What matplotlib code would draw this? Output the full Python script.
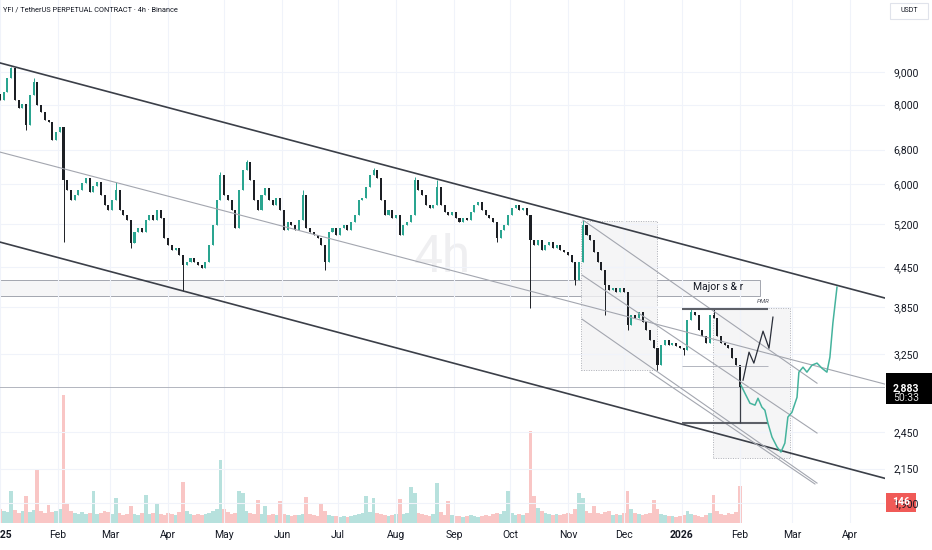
import numpy as np
import matplotlib
matplotlib.use("Agg")
import matplotlib.pyplot as plt
import matplotlib.dates as mdates
from matplotlib.patches import Rectangle
from matplotlib.ticker import FixedLocator, NullLocator, FixedFormatter

plt.rcParams['font.family'] = ['Roboto', 'DejaVu Sans']

START = mdates.date2num(np.datetime64('2025-01-01'))
STEP = 2  # days per candle

# 2-day candles, closes in USDT
first_open = 8300
closes = [
    8130, 8370, 8810, 9130, 8130, 7900, 8020, 7430, 8280, 8680,
    7990, 7790, 7570, 7510, 7040, 7250, 7380, 6090, 5880, 5670,
    5770, 5880, 6030, 6140, 5835, 5960, 6050, 5770, 5570, 5470,
    5670, 5880, 5470, 5370, 5270, 4850, 5050, 5120, 5050, 5270,
    5370, 5270, 5470, 5310, 4940, 4820, 4730, 4770, 4650, 4480,
    4530, 4600, 4530, 4480, 4430, 4530, 4820, 5180, 5670, 6200,
    5770, 5670, 5470, 5120, 5880, 6320, 6500, 6090, 5670, 5470,
    5770, 5920, 5670, 5570, 5710, 5470, 5090, 5240, 5180, 5090,
    5270, 5770, 5120, 5050, 5000, 4940, 4820, 4530, 5050, 5120,
    5000, 5120, 5180, 5090, 5240, 5370, 5670, 5710, 5940, 6200,
    6320, 6140, 5670, 5370, 5470, 5310, 5370, 5000, 5180, 5240,
    5370, 6090, 5880, 5770, 5570, 5510, 5570, 5940, 5570, 5430,
    5370, 5430, 5310, 5240, 5310, 5270, 5430, 5570, 5630, 5470,
    5370, 5310, 5240, 4940, 5090, 5180, 5370, 5510, 5570, 5470,
    5510, 5370, 4910, 4820, 4910, 4730, 4820, 4870, 4770, 4820,
    4730, 4700, 4650, 4530, 4250, 4530, 5180, 5000, 4910, 4700,
    4530, 4400, 4170, 4100, 4130, 4070, 4130, 4070, 3610, 3740,
    3700, 3780, 3650, 3550, 3420, 3320, 3120, 3360, 3420, 3360,
    3390, 3350, 3320, 3300, 3680, 3780, 3740, 3550, 3470, 3390,
    3740, 3700, 3470, 3390, 3360, 3320, 3200, 3120, 2883,
]
wick_hi = {3: 9170, 9: 8810, 31: 6050, 59: 6270, 66: 6550, 81: 5880, 100: 6360,
           111: 6160, 117: 6090, 156: 5270, 185: 3820, 191: 3825}
wick_lo = {7: 7310, 17: 4870, 35: 4770, 49: 4080, 87: 4400, 133: 4870, 142: 3840,
           154: 4170, 162: 3740, 168: 3550, 176: 3070, 183: 3240, 198: 2830}
volumes = [
    98, 84, 77, 224, 91, 70, 84, 189, 77, 91,
    371, 84, 70, 126, 77, 84, 98, 896, 140, 84,
    70, 63, 77, 63, 70, 224, 63, 70, 84, 77,
    63, 175, 70, 56, 63, 119, 63, 56, 70, 196,
    63, 70, 140, 63, 56, 70, 63, 56, 77, 287,
    84, 63, 56, 63, 56, 63, 70, 84, 98, 441,
    98, 77, 63, 70, 224, 210, 84, 70, 63, 161,
    63, 119, 56, 63, 56, 154, 63, 56, 49, 56,
    56, 63, 182, 63, 56, 49, 140, 84, 56, 49,
    49, 42, 49, 42, 49, 56, 63, 70, 189, 77,
    175, 70, 63, 56, 49, 56, 63, 168, 63, 70,
    252, 210, 70, 63, 56, 49, 63, 280, 77, 56,
    154, 56, 49, 49, 42, 49, 56, 49, 42, 49,
    56, 49, 63, 70, 63, 84, 224, 70, 56, 63,
    56, 70, 644, 189, 105, 84, 70, 63, 56, 63,
    56, 63, 70, 63, 98, 210, 175, 84, 70, 119,
    70, 63, 77, 84, 56, 63, 56, 70, 224, 98,
    70, 63, 56, 63, 70, 161, 98, 63, 56, 49,
    49, 42, 49, 56, 84, 63, 56, 49, 42, 56,
    70, 196, 84, 63, 56, 70, 63, 77, 259,
]
last_price = 2883
last_volume = 146

price_ticks = [1900, 2150, 2450, 3250, 3850, 4450, 5200, 6000, 6800, 8000, 9000]
month_ticks = ['2025-01-01', '2025-02-01', '2025-03-01', '2025-04-01', '2025-05-01',
               '2025-06-01', '2025-07-01', '2025-08-01', '2025-09-01', '2025-10-01',
               '2025-11-01', '2025-12-01', '2026-01-01', '2026-02-01', '2026-03-01',
               '2026-04-01']
month_labels = ['2025', 'Feb', 'Mar', 'Apr', 'May', 'Jun', 'Jul', 'Aug', 'Sep', 'Oct',
                'Nov', 'Dec', '2026', 'Feb', 'Mar', 'Apr']

# drawings: (days since 2025-01-01, price)
chan_upper = ([0, 473.8], [9300, 3980])
chan_mid = ([0, 473.8], [6741, 2917])
chan_lower = ([0, 473.8], [4871, 2076])
desc_upper = ([312.1, 437.4], [5274, 2927])
desc_mid = ([311.6, 437.4], [4324, 2445])
desc_low_a = ([311.6, 437.4], [3688, 2041])
desc_low_b = ([348.0, 436.3], [3046, 2034])
band_days, band_prices = [0, 406.9], [4008, 4247]
box1_days, box1_prices = [311.0, 351.7], [3068, 5255]
box2_days, box2_prices = [381.7, 422.9], [2234, 3838]
pmr_days = [365.1, 411.1]
pmr_levels = [3825, 3113, 2535]
measure_day = 396.2
zig_days = [397.8, 401.0, 403.6, 408.5, 411.7, 413.8]
zig_prices = [2959, 3274, 3147, 3532, 3321, 3715]
path_days = [396.7, 398.8, 401.5, 404.2, 405.8, 407.9, 409.5, 411.1, 413.3, 416.0,
             418.1, 420.2, 421.8, 424.0, 426.7, 427.7, 429.9, 432.0, 434.7, 437.4,
             440.0, 442.7, 444.3, 445.9, 448.1]
path_prices = [2906, 2823, 2723, 2704, 2772, 2684, 2655, 2535, 2410, 2325,
               2283, 2358, 2590, 2636, 2782, 3046, 3101, 3046, 3124, 3147,
               3090, 3046, 3215, 3636, 4140]

W, H = 932, 550
fig = plt.figure(figsize=(W / 100, H / 100), dpi=100)
fig.patch.set_facecolor('white')
ax = fig.add_axes([0, 27 / H, 885 / W, 523 / H])
axv = ax.twinx()
ax.set_zorder(2)
ax.patch.set_visible(False)
axv.set_zorder(1)

def t(day):
    return START + np.asarray(day, dtype=float)

n = len(closes)
x = START + STEP * np.arange(n)
c = np.array(closes, dtype=float)
o = np.concatenate([[first_open], c[:-1]])
hi = np.maximum(o, c)
lo = np.minimum(o, c)
for k, v in wick_hi.items():
    hi[k] = v
for k, v in wick_lo.items():
    lo[k] = v
up = c >= o
UP, DN = '#2aa590', '#1c1f24'
cols = np.where(up, UP, DN)

ax.set_yscale('log')
ax.set_ylim(1767, 11672)
ax.set_xlim(START, START + 473.8)

# watermark
ax.text(0.5, 0.507, '4h', transform=ax.transAxes, ha='center', va='center',
        fontsize=37, color='#efeff1', zorder=0)

# volume
axv.bar(x, volumes, width=STEP, color=np.where(up, '#26a69a', '#ef5350'), alpha=0.33,
        linewidth=0)
axv.set_ylim(0, 523 * 7)
axv.axis('off')

# band and boxes
ax.add_patch(Rectangle((t(band_days[0]), band_prices[0]), band_days[1] - band_days[0],
                       band_prices[1] - band_prices[0], facecolor='#f6f6f7',
                       edgecolor='#a3a6af', lw=0.7, zorder=1))
for bd, bp in [(box1_days, box1_prices), (box2_days, box2_prices)]:
    ax.add_patch(Rectangle((t(bd[0]), bp[0]), bd[1] - bd[0], bp[1] - bp[0],
                           facecolor='#f3f3f4', alpha=0.8, edgecolor='#9a9da6',
                           lw=0.7, ls=(0, (1, 1.5)), zorder=1))

# candles
ax.vlines(x, lo, hi, color=cols, lw=0.7, zorder=3)
ax.bar(x, c - o, bottom=o, width=1.1, color=cols, linewidth=0, zorder=3)

# last price line
ax.axhline(last_price, color='#b2b5be', lw=0.7, zorder=2)

# drawings
ax.plot(t(chan_upper[0]), chan_upper[1], color='#3b3f48', lw=1.2, zorder=4)
ax.plot(t(chan_lower[0]), chan_lower[1], color='#3b3f48', lw=1.2, zorder=4)
ax.plot(t(chan_mid[0]), chan_mid[1], color='#a3a6af', lw=0.8, zorder=4)
for ln in [desc_upper, desc_mid, desc_low_a, desc_low_b]:
    ax.plot(t(ln[0]), ln[1], color='#a3a6af', lw=0.8, zorder=4)
ax.hlines([pmr_levels[0], pmr_levels[2]], t(pmr_days[0]), t(pmr_days[1]),
          color='#5d6068', lw=1.5, zorder=4)
ax.hlines(pmr_levels[1], t(pmr_days[0]), t(pmr_days[1]), color='#b2b5be', lw=0.7, zorder=4)
ax.vlines(t(measure_day), pmr_levels[2], last_price, color='#3b3f48', lw=0.9, zorder=4)
ax.plot(t(zig_days), zig_prices, color='#2a2e39', lw=0.9, zorder=5)
ax.plot(t(path_days), path_prices, color='#45b39d', lw=1.1, zorder=5)
ax.text(t(384.4), 4140, 'Major s & r', ha='center', va='center', fontsize=7.5,
        color='#131722', zorder=5)
ax.text(t(408.5), 3900, 'PMR', ha='center', va='bottom', fontsize=4.5,
        color='#50535e', style='italic', zorder=5)

# axes styling
for s in ax.spines.values():
    s.set_visible(False)
ax.yaxis.tick_right()
ax.yaxis.set_major_locator(FixedLocator(price_ticks))
ax.yaxis.set_major_formatter(FixedFormatter([f'{v:,}' for v in price_ticks]))
ax.yaxis.set_minor_locator(NullLocator())
ax.tick_params(axis='y', length=0, pad=6, labelsize=7.5, labelcolor='#131722')
ax.set_xticks([mdates.date2num(np.datetime64(m)) for m in month_ticks])
ax.set_xticklabels(month_labels)
for lab in ax.get_xticklabels():
    if lab.get_text() in ('2025', '2026'):
        lab.set_fontweight('bold')
ax.tick_params(axis='x', length=0, pad=5, labelsize=7.5, labelcolor='#131722')
ax.grid(True, color='#f0f3fa', lw=0.8, zorder=0)

# header and price-scale boxes
fig.text(3 / W, 1 - 10 / H, 'YFI / TetherUS PERPETUAL CONTRACT · 4h · Binance',
         fontsize=5.3, color='#131722', va='center')
fig.add_artist(Rectangle((890 / W, 1 - 19 / H), 38 / W, 16 / H, transform=fig.transFigure,
                         facecolor='white', edgecolor='#e0e3eb', lw=0.8))
fig.text(909 / W, 1 - 11 / H, 'USDT', fontsize=5, color='#131722', ha='center', va='center')

yp = fig.transFigure.inverted().transform(ax.transData.transform((START, last_price)))[1]
fig.add_artist(Rectangle((886 / W, yp - 17 / H), 46 / W, 31 / H, transform=fig.transFigure,
                         facecolor='black', edgecolor='none'))
fig.text(893 / W, yp - 1 / H, f'{last_price:,}', fontsize=7.5, color='white', va='center',
         fontweight='bold')
fig.text(893 / W, yp - 11 / H, '50:33', fontsize=7.5, color='#e0e0e0', va='center')

yv = fig.transFigure.inverted().transform(axv.transData.transform((START, last_volume)))[1]
fig.add_artist(Rectangle((886 / W, yv - 10 / H), 30 / W, 19 / H, transform=fig.transFigure,
                         facecolor='#f05a57', edgecolor='none'))
fig.text(901 / W, yv, str(last_volume), fontsize=7.5, color='white', ha='center',
         va='center', fontweight='bold')

fig.savefig('out.png', dpi=100, facecolor='white')
